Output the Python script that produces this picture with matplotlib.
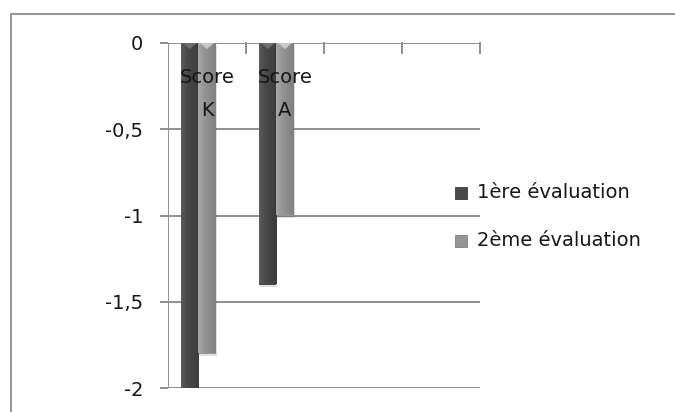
import numpy as np
import matplotlib
matplotlib.use("Agg")
import matplotlib.pyplot as plt
from matplotlib.patches import Rectangle, Polygon
from matplotlib.colors import LinearSegmentedColormap

# Data
categories = ["Score\nK", "Score\nA", "", ""]
series_names = ["1ère évaluation", "2ème évaluation"]
eval_1 = [-2.0, -1.4]
eval_2 = [-1.8, -1.0]
y_ticks = [0, -0.5, -1, -1.5, -2]
y_tick_labels = ["0", "-0,5", "-1", "-1,5", "-2"]

plt.rcParams["font.family"] = ["DejaVu Sans"]
FS = 14
TXT = "#161616"

W, H = 675, 412
fig = plt.figure(figsize=(W / 100, H / 100), dpi=100)
fig.patch.set_facecolor("white")

# outer chart-area frame (only top/left edges fall inside the image)
fig.add_artist(Rectangle((11 / W, -0.1), 1.2, (H - 14) / H + 0.1,
                         transform=fig.transFigure, fill=False,
                         edgecolor="#8c8c8c", linewidth=1.3))

ax = fig.add_axes([168 / W, 1 - 388 / H, (480 - 168) / W, (388 - 43) / H])
ax.set_xlim(0, len(categories))
ax.set_ylim(-2, 0)
for s in ax.spines.values():
    s.set_visible(False)

grid_col = "#8f8f8f"
# horizontal gridlines incl. the category axis at 0
for t in y_ticks:
    ax.axhline(t, color=grid_col, linewidth=1.4, zorder=1)
ax.axvline(0, color=grid_col, linewidth=1.4, zorder=1)

ax.set_yticks(y_ticks)
ax.set_yticklabels(y_tick_labels)
ax.tick_params(axis="y", length=5.8, width=1.4, color=grid_col, pad=12,
               labelsize=FS, labelcolor=TXT)
ax.set_xticks([])

# category axis tick marks hanging down from the 0 line
for i in range(1, len(categories) + 1):
    ax.plot([i, i], [0, -0.06], color=grid_col, linewidth=1.4, zorder=1,
            clip_on=False)

bw = 0.22
x = np.arange(len(eval_1)) + 0.5

shades = [
    ["#5c5c5c", "#4a4a4a", "#424242", "#3c3c3c"],
    ["#a8a8a8", "#959595", "#8a8a8a", "#808080"],
]
tri_cols = ["#6f6f6f", "#c8c8c8"]
offsets = [-bw, 0.0]

grad = np.linspace(0, 1, 64).reshape(1, -1)
for vals, off, cols, tcol in zip([eval_1, eval_2], offsets, shades, tri_cols):
    cmap = LinearSegmentedColormap.from_list("g", cols)
    bars = ax.bar(x + off, vals, width=bw, color=cols[1], zorder=3)
    for b in bars:
        x0, w = b.get_x(), b.get_width()
        y0, h = b.get_y(), b.get_height()
        # soft drop shadow on the right/bottom
        ax.add_patch(Rectangle((x0 + 0.012, y0 + h - 0.012), w, -h,
                               facecolor="#000000", alpha=0.12,
                               edgecolor="none", zorder=2))
        im = ax.imshow(grad, cmap=cmap, aspect="auto",
                       extent=(x0, x0 + w, y0 + h, y0), zorder=4)
        im.set_clip_path(b)
        ax.add_patch(Polygon([(x0 + 0.02, 0), (x0 + w - 0.02, 0),
                              (x0 + w / 2, -0.035)], closed=True,
                             facecolor=tcol, edgecolor="none", zorder=5))
ax.set_xlim(0, len(categories))
ax.set_ylim(-2, 0)

# category labels sit just under the 0 axis, one text per line
line_y = [-0.198, -0.39]
for i, c in enumerate(categories):
    if c:
        for part, yy in zip(c.split("\n"), line_y):
            ax.text(i + 0.5, yy, part, ha="center", va="center",
                    fontsize=FS, color=TXT, zorder=6)

# legend
for k, (name, cols) in enumerate(zip(series_names, shades)):
    yc = 193 + 48 * k
    fig.add_artist(Rectangle((455 / W, 1 - (yc + 6) / H), 12 / W, 12 / H,
                             transform=fig.transFigure, facecolor=cols[1],
                             edgecolor=cols[3], linewidth=0.6))
    fig.text(477 / W, 1 - yc / H, name, ha="left", va="center",
             fontsize=FS, color=TXT)

fig.savefig("out.png", dpi=100, facecolor="white")
